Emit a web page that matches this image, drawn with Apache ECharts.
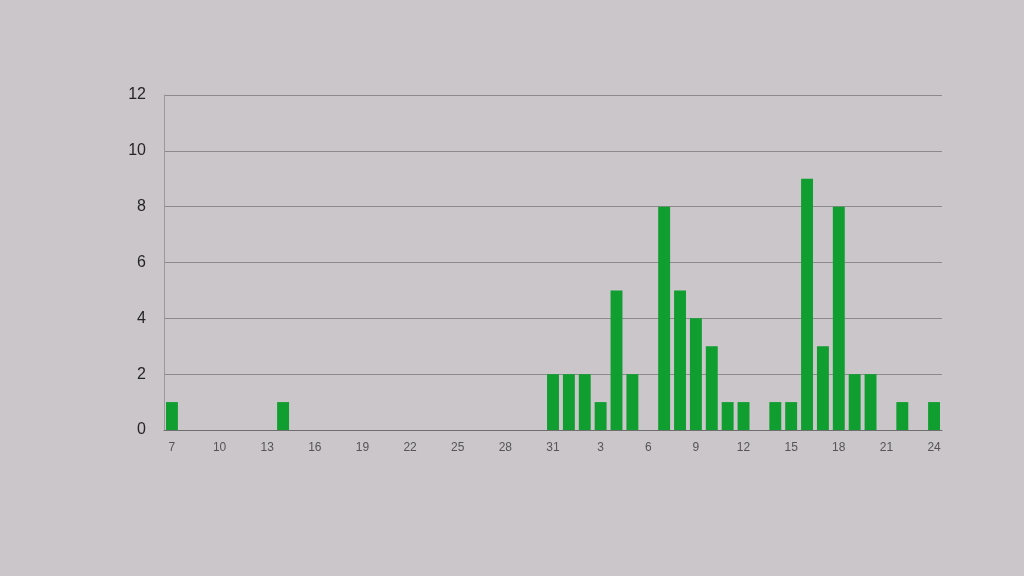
<!DOCTYPE html>
<html><head><meta charset="utf-8">
<script src="https://cdn.jsdelivr.net/npm/echarts@6/dist/echarts.min.js"></script>
<style>html,body{margin:0;padding:0;background:#cac6ca;}#c{width:1024px;height:576px;}</style>
</head><body><div id="c"></div>
<script>
const categories = ['7','8','9','10','11','12','13','14','15','16','17','18','19','20','21','22','23','24','25','26','27','28','29','30','31',
  '1','2','3','4','5','6','7','8','9','10','11','12','13','14','15','16','17','18','19','20','21','22','23','24'];
const values = [1,0,0,0,0,0,0,1,0,0,0,0,0,0,0,0,0,0,0,0,0,0,0,0,2,
  2,2,1,5,2,0,8,5,4,3,1,1,0,1,1,9,3,8,2,2,0,1,0,1];
const yTicks = [0,2,4,6,8,10,12];

const chart = echarts.init(document.getElementById('c'));
chart.setOption({
  backgroundColor: '#cac6ca',
  animation: false,
  grid: {left: 164, right: 82, top: 95, bottom: 146},
  xAxis: {
    type: 'category', data: categories,
    axisLine: {show: true, lineStyle: {color: '#6e6e6e'}},
    axisTick: {show: false},
    axisLabel: {interval: 2, color: '#555', fontSize: 12, fontFamily: 'Arial, Liberation Sans', margin: 12}
  },
  yAxis: {
    type: 'value', min: yTicks[0], max: yTicks[yTicks.length - 1], interval: 2,
    axisLine: {show: true, lineStyle: {color: '#9a9a9a'}},
    axisTick: {show: false},
    axisLabel: {color: '#262626', fontSize: 16, fontFamily: 'Arial, Liberation Sans', margin: 18},
    splitLine: {lineStyle: {color: '#8c8a8c', width: 1}}
  },
  series: [{
    type: 'bar', data: values, barCategoryGap: '25%',
    itemStyle: {color: '#0f9e2f'}
  }]
});
</script></body></html>
